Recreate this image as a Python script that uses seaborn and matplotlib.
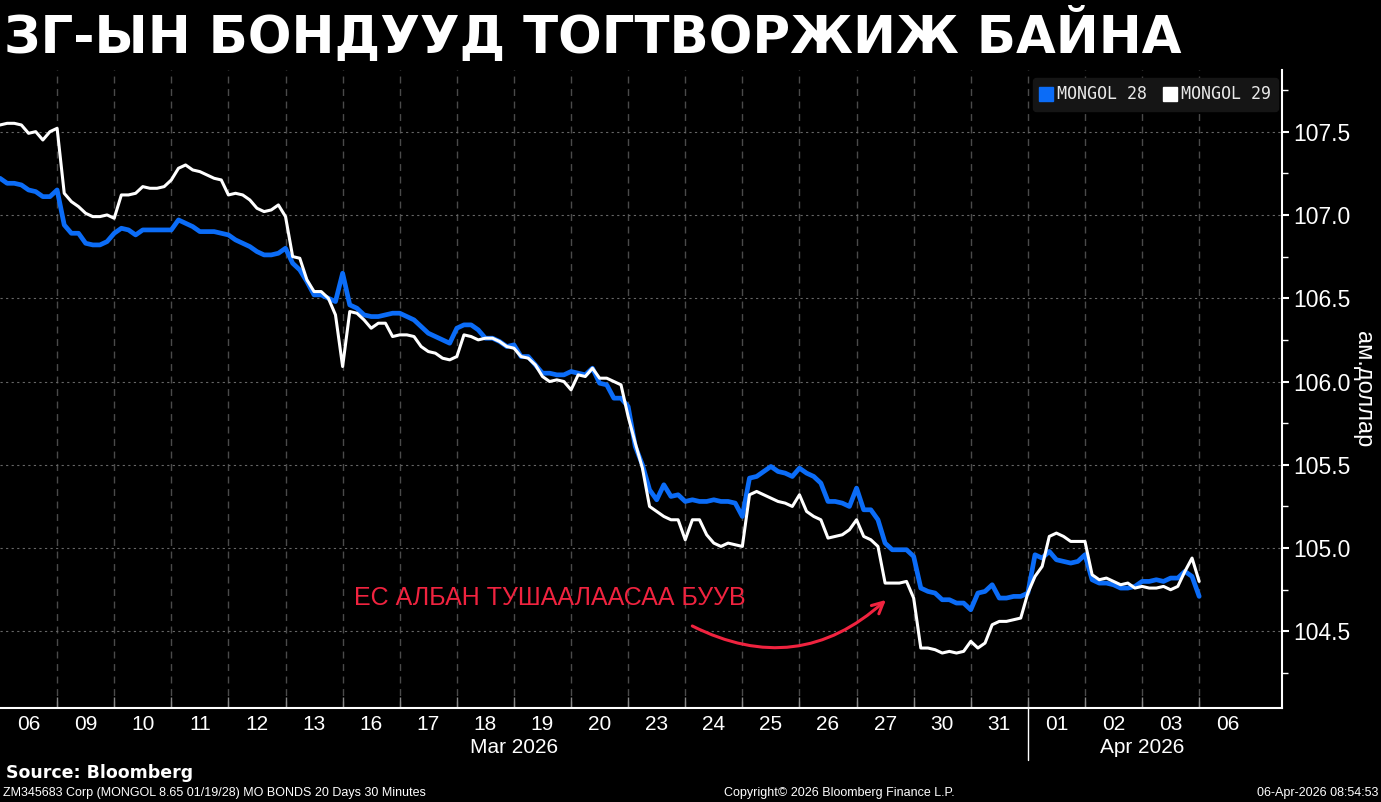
import numpy as np
import pandas as pd
import matplotlib.pyplot as plt
import seaborn as sns
from matplotlib.lines import Line2D

# trading days on the x axis (30 minute bars at 8 points per day)
day_labels = ["06", "09", "10", "11", "12", "13", "16", "17", "18", "19", "20",
              "23", "24", "25", "26", "27", "30", "31", "01", "02", "03", "06"]
month_labels = ["Mar 2026", "Apr 2026"]
steps_per_day = 8

mongol28 = [
    107.22, 107.19, 107.19, 107.18, 107.15, 107.14, 107.11, 107.11,
    107.15, 106.94, 106.89, 106.89, 106.83, 106.82, 106.82, 106.84,
    106.89, 106.92, 106.91, 106.88, 106.91, 106.91, 106.91, 106.91,
    106.91, 106.97, 106.95, 106.93, 106.90, 106.90, 106.90, 106.89,
    106.88, 106.85, 106.83, 106.81, 106.78, 106.76, 106.76, 106.77,
    106.80, 106.71, 106.67, 106.60, 106.52, 106.52, 106.50, 106.48,
    106.65, 106.46, 106.44, 106.40, 106.39, 106.39, 106.40, 106.41,
    106.41, 106.39, 106.37, 106.33, 106.29, 106.27, 106.25, 106.23,
    106.32, 106.34, 106.34, 106.31, 106.26, 106.26, 106.24, 106.21,
    106.22, 106.15, 106.15, 106.10, 106.05, 106.05, 106.04, 106.04,
    106.06, 106.05, 106.04, 106.08, 105.99, 105.98, 105.90, 105.90,
    105.85, 105.61, 105.50, 105.35, 105.29, 105.38, 105.31, 105.32,
    105.28, 105.29, 105.28, 105.28, 105.29, 105.28, 105.28, 105.27,
    105.19, 105.42, 105.43, 105.46, 105.49, 105.46, 105.45, 105.43,
    105.48, 105.45, 105.43, 105.39, 105.28, 105.28, 105.27, 105.25,
    105.36, 105.23, 105.23, 105.17, 105.03, 104.99, 104.99, 104.99,
    104.95, 104.76, 104.74, 104.73, 104.69, 104.69, 104.67, 104.67,
    104.63, 104.73, 104.74, 104.78, 104.70, 104.70, 104.71, 104.71,
    104.73, 104.96, 104.94, 104.98, 104.93, 104.92, 104.91, 104.92,
    104.96, 104.81, 104.79, 104.79, 104.78, 104.76, 104.76, 104.77,
    104.80, 104.80, 104.81, 104.80, 104.82, 104.82, 104.86, 104.83,
    104.71,
]

mongol29 = [
    107.54, 107.55, 107.55, 107.54, 107.49, 107.50, 107.45, 107.50,
    107.52, 107.13, 107.08, 107.05, 107.01, 106.99, 106.99, 107.00,
    106.98, 107.12, 107.12, 107.13, 107.17, 107.16, 107.16, 107.17,
    107.21, 107.28, 107.30, 107.27, 107.26, 107.24, 107.22, 107.21,
    107.12, 107.13, 107.12, 107.09, 107.04, 107.02, 107.03, 107.06,
    106.99, 106.75, 106.74, 106.61, 106.54, 106.54, 106.50, 106.40,
    106.09, 106.42, 106.41, 106.37, 106.32, 106.35, 106.35, 106.27,
    106.28, 106.28, 106.27, 106.21, 106.18, 106.17, 106.14, 106.13,
    106.15, 106.28, 106.27, 106.25, 106.26, 106.26, 106.24, 106.21,
    106.20, 106.15, 106.14, 106.10, 106.03, 106.00, 106.01, 106.00,
    105.95, 106.04, 106.03, 106.08, 106.02, 106.02, 106.00, 105.98,
    105.79, 105.63, 105.48, 105.25, 105.22, 105.19, 105.17, 105.17,
    105.05, 105.17, 105.17, 105.08, 105.03, 105.01, 105.03, 105.02,
    105.01, 105.32, 105.34, 105.32, 105.30, 105.28, 105.27, 105.25,
    105.32, 105.22, 105.19, 105.17, 105.06, 105.07, 105.08, 105.11,
    105.17, 105.07, 105.05, 105.01, 104.79, 104.79, 104.79, 104.80,
    104.70, 104.40, 104.40, 104.39, 104.37, 104.38, 104.37, 104.38,
    104.44, 104.40, 104.43, 104.54, 104.56, 104.56, 104.57, 104.58,
    104.73, 104.83, 104.89, 105.07, 105.09, 105.07, 105.04, 105.04,
    105.04, 104.84, 104.81, 104.82, 104.80, 104.78, 104.79, 104.76,
    104.77, 104.76, 104.76, 104.77, 104.75, 104.77, 104.86, 104.94,
    104.80,
]

blue = "#0b6cf7"
red = "#f0233f"
grid_col = "#4a4a4a"

n = len(mongol28)
t = np.arange(n) / steps_per_day
df = pd.DataFrame({
    "t": np.concatenate([t, t]),
    "price": mongol28 + mongol29,
    "bond": ["MONGOL 28"] * n + ["MONGOL 29"] * n,
})

sns.set_theme(style="dark", rc={
    "axes.facecolor": "black",
    "figure.facecolor": "black",
    "savefig.facecolor": "black",
    "text.color": "white",
})
plt.rcParams["font.family"] = ["Liberation Sans", "DejaVu Sans"]

fig = plt.figure(figsize=(13.81, 8.02), dpi=100)
ax = fig.add_axes([0.0, 0.1172, 0.9283, 0.7955])

sns.lineplot(data=df[df.bond == "MONGOL 28"], x="t", y="price", color=blue,
             linewidth=3.4, estimator=None, ax=ax, legend=False)
sns.lineplot(data=df[df.bond == "MONGOL 29"], x="t", y="price", color="white",
             linewidth=2.2, estimator=None, ax=ax, legend=False)

ax.set_xlim(0, 22.45)
ax.set_ylim(104.04, 107.87)
ax.set_xlabel("")
ax.set_ylabel("")

# x axis: day boundaries as ticks / grid, day labels in the middle
ax.set_xticks(np.arange(1, 22))
ax.set_xticklabels([])
ax.set_xticks(np.arange(len(day_labels)) + 0.5, minor=True)
ax.set_xticklabels(day_labels, minor=True)
ax.tick_params(axis="x", which="major", direction="in", length=8, width=1,
               color="#888888", bottom=True)
ax.tick_params(axis="x", which="minor", length=0, pad=5, labelsize=15,
               labelcolor="white")

# y axis on the right
ax.yaxis.tick_right()
ax.set_yticks([104.5, 105.0, 105.5, 106.0, 106.5, 107.0, 107.5])
ax.set_yticklabels([f"{v:.1f}" for v in ax.get_yticks()])
ax.set_yticks(np.arange(104.25, 107.9, 0.5), minor=True)
ax.tick_params(axis="y", which="major", direction="out", length=5, width=1.5,
               color="white", labelsize=16.5, labelcolor="white", pad=3,
               right=True, left=False)
ax.tick_params(axis="y", which="minor", direction="out", length=4, width=1,
               color="white", right=True, left=False)

ax.grid(axis="x", which="major", color=grid_col, linestyle=(0, (5, 4)), linewidth=1)
ax.grid(axis="y", which="major", color="#666666", linestyle=(0, (2, 3)), linewidth=0.8)
ax.grid(axis="x", which="minor", visible=False)

for side in ["left", "top"]:
    ax.spines[side].set_visible(False)
for side in ["bottom", "right"]:
    ax.spines[side].set_visible(True)
    ax.spines[side].set_color("white")
    ax.spines[side].set_linewidth(1.5)

# month labels and separator
xt = ax.get_xaxis_transform()
ax.text(9.0, -0.062, month_labels[0], transform=xt, ha="center", va="center",
        fontsize=15, color="white")
ax.text(20.0, -0.062, month_labels[1], transform=xt, ha="center", va="center",
        fontsize=15, color="white")
ax.plot([18, 18], [0, -0.082], transform=xt, clip_on=False, color="white", lw=1)

# legend
handles = [Line2D([], [], marker="s", linestyle="none", markersize=10, color=blue),
           Line2D([], [], marker="s", linestyle="none", markersize=10, color="white")]
leg = ax.legend(handles, ["MONGOL 28", "MONGOL 29"], loc="upper right",
                bbox_to_anchor=(0.997, 0.9875), borderaxespad=0, ncol=2,
                frameon=True, facecolor="#151515", edgecolor="#151515",
                framealpha=1, handlelength=0.7, handletextpad=0.3,
                columnspacing=1.0, borderpad=0.45,
                prop={"family": "DejaVu Sans Mono", "size": 12})
for txt in leg.get_texts():
    txt.set_color("#e8e8e8")

# annotation
ax.text(9.63, 104.70, "ЕС АЛБАН ТУШААЛААСАА БУУВ", color=red, fontsize=18,
        ha="center", va="center")
ax.annotate("", xy=(15.55, 104.70), xytext=(12.08, 104.54),
            arrowprops=dict(arrowstyle="->", color=red, lw=2.2,
                            mutation_scale=20,
                            connectionstyle="arc3,rad=0.35"))

# title and footer
fig.text(0.003, 0.955, "ЗГ-ЫН БОНДУУД ТОГТВОРЖИЖ БАЙНА", fontsize=37,
         fontweight="heavy", color="white", va="center", ha="left",
         family=["DejaVu Sans"])
fig.text(0.987, 0.515, "ам.доллар", rotation=270, fontsize=17, color="white",
         ha="center", va="center")
fig.text(0.004, 0.036, "Source: Bloomberg", fontsize=12.5, fontweight="bold",
         color="white", va="center", family=["DejaVu Sans"])
fig.text(0.002, 0.011, "ZM345683 Corp (MONGOL 8.65 01/19/28) MO BONDS 20 Days 30 Minutes",
         fontsize=9, color="white", va="center")
fig.text(0.608, 0.011, "Copyright© 2026 Bloomberg Finance L.P.", fontsize=9,
         color="white", va="center", ha="center")
fig.text(0.998, 0.011, "06-Apr-2026 08:54:53", fontsize=9, color="white",
         va="center", ha="right")

fig.savefig("out.png", dpi=100)
